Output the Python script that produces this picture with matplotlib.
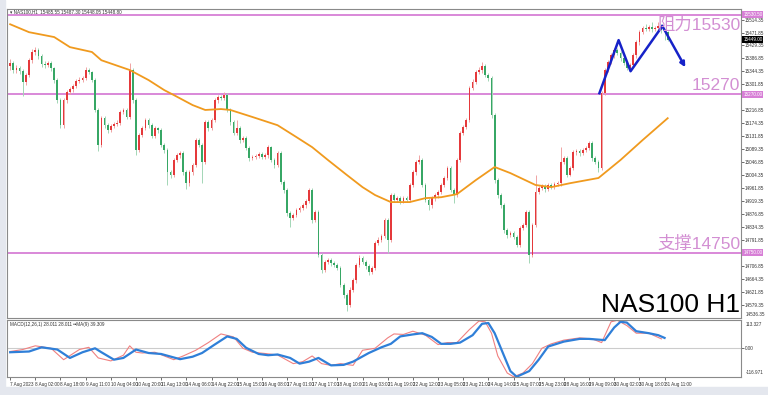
import numpy as np
import matplotlib
matplotlib.use("Agg")
import matplotlib.pyplot as plt
from matplotlib.patches import Rectangle
import matplotlib.transforms as mtrans

# --- H1 candles (2h steps), open = previous close ---
first_open = 15362
closes = [
    15372, 15349, 15355, 15345, 15309, 15332, 15381, 15408, 15414, 15395,
    15368, 15365, 15372, 15355, 15316, 15250, 15168, 15250, 15277, 15286,
    15296, 15313, 15316, 15322, 15349, 15342, 15316, 15218, 15103, 15191,
    15168, 15152, 15165, 15172, 15175, 15211, 15218, 15195, 15349, 15250,
    15087, 15136, 15159, 15185, 15168, 15132, 15159, 15152, 15103, 15087,
    15014, 15005, 15054, 15070, 15077, 15014, 14978, 15014, 15037, 15119,
    15103, 15047, 15178, 15159, 15185, 15250, 15260, 15257, 15267, 15218,
    15178, 15142, 15159, 15119, 15126, 15093, 15060, 15064, 15067, 15073,
    15064, 15070, 15096, 15054, 15037, 15077, 14982, 14955, 14880, 14864,
    14873, 14890, 14896, 14906, 14919, 14955, 14857, 14883, 14742, 14693,
    14719, 14726, 14716, 14710, 14700, 14644, 14611, 14579, 14628, 14660,
    14710, 14733, 14719, 14706, 14687, 14700, 14782, 14792, 14805, 14857,
    14792, 14939, 14923, 14929, 14919, 14929, 14923, 14972, 15014, 15047,
    15054, 14972, 14923, 14906, 14929, 14939, 14949, 14972, 14995, 15028,
    14955, 14939, 15054, 15142, 15162, 15185, 15290, 15309, 15342, 15349,
    15362, 15332, 15322, 15201, 14988, 14939, 14906, 14824, 14808, 14814,
    14801, 14775, 14831, 14841, 14883, 14742, 14841, 14949, 14962, 14969,
    14959, 14972, 14965, 14975, 14978, 15047, 15060, 15005, 15028, 15080,
    15083, 15077, 15087, 15093, 15109, 15060, 15047, 15028, 15273, 15349,
    15375, 15398, 15414, 15404, 15388, 15372, 15355, 15365, 15398, 15440,
    15473, 15486, 15483, 15490, 15483, 15486, 15493, 15480, 15473, 15449,
]
highs = [
    15385, 15380, 15366, 15362, 15352, 15340, 15390, 15418, 15425, 15420,
    15402, 15377, 15380, 15378, 15360, 15322, 15258, 15258, 15285, 15294,
    15303, 15320, 15325, 15330, 15358, 15355, 15346, 15322, 15224, 15198,
    15198, 15175, 15172, 15180, 15184, 15218, 15226, 15224, 15372, 15355,
    15258, 15142, 15166, 15192, 15192, 15174, 15166, 15162, 15158, 15110,
    15094, 15022, 15060, 15078, 15085, 15084, 15020, 15020, 15044, 15126,
    15126, 15110, 15185, 15184, 15192, 15256, 15268, 15266, 15277, 15272,
    15225, 15185, 15185, 15165, 15134, 15132, 15100, 15070, 15074, 15080,
    15080, 15077, 15103, 15100, 15060, 15084, 15084, 14990, 14962, 14887,
    14880, 14897, 14904, 14913, 14926, 14962, 14962, 14890, 14890, 14750,
    14726, 14734, 14733, 14722, 14716, 14706, 14650, 14618, 14636, 14668,
    14717, 14741, 14740, 14726, 14713, 14707, 14789, 14800, 14812, 14864,
    14864, 14946, 14946, 14936, 14936, 14936, 14936, 14979, 15021, 15054,
    15070, 15060, 14980, 14930, 14935, 14946, 14956, 14979, 15002, 15035,
    15035, 14962, 15060, 15148, 15170, 15192, 15296, 15318, 15350, 15360,
    15375, 15368, 15340, 15328, 15207, 14995, 14946, 14912, 14832, 14822,
    14822, 14808, 14838, 14848, 14890, 14890, 14848, 15005, 14970, 14976,
    14976, 14979, 14979, 14982, 14985, 15096, 15068, 15067, 15035, 15087,
    15090, 15090, 15094, 15100, 15116, 15115, 15066, 15054, 15280, 15356,
    15382, 15405, 15422, 15420, 15410, 15395, 15380, 15372, 15405, 15447,
    15480, 15493, 15500, 15497, 15505, 15494, 15506, 15500, 15484, 15478,
]
lows = [
    15350, 15340, 15340, 15336, 15265, 15300, 15325, 15372, 15398, 15386,
    15360, 15356, 15358, 15346, 15305, 15240, 15158, 15160, 15242, 15270,
    15278, 15289, 15306, 15310, 15316, 15335, 15310, 15210, 15084, 15096,
    15160, 15144, 15146, 15158, 15164, 15170, 15204, 15188, 15188, 15242,
    15070, 15080, 15130, 15152, 15160, 15125, 15126, 15144, 15096, 15078,
    14972, 14995, 14998, 15046, 15062, 15006, 14960, 14970, 15006, 15030,
    15096, 14980, 15040, 15150, 15152, 15178, 15242, 15250, 15250, 15210,
    15170, 15135, 15136, 15110, 15112, 15086, 15050, 15054, 15058, 15062,
    15056, 15058, 15062, 15046, 15028, 15030, 14975, 14946, 14872, 14834,
    14856, 14866, 14882, 14889, 14898, 14912, 14848, 14850, 14735, 14683,
    14686, 14712, 14708, 14702, 14692, 14636, 14603, 14560, 14572, 14620,
    14652, 14702, 14712, 14698, 14678, 14680, 14693, 14774, 14785, 14798,
    14749, 14785, 14915, 14916, 14911, 14912, 14915, 14916, 14965, 15006,
    15040, 14965, 14915, 14890, 14898, 14920, 14930, 14942, 14965, 14988,
    14948, 14913, 14932, 15046, 15135, 15155, 15178, 15282, 15302, 15335,
    15340, 15325, 15314, 15192, 14980, 14930, 14898, 14815, 14798, 14800,
    14794, 14768, 14768, 14824, 14834, 14716, 14735, 14834, 14942, 14955,
    14950, 14952, 14958, 14958, 14968, 14970, 15040, 14998, 15000, 15020,
    15072, 15068, 15070, 15080, 15086, 15052, 15040, 15015, 15020, 15266,
    15342, 15368, 15390, 15398, 15380, 15365, 15348, 15345, 15358, 15390,
    15432, 15466, 15476, 15476, 15475, 15476, 15480, 15470, 15446, 15445,
]

# orange moving average, sampled along the chart
ma_idx = [0, 6, 14, 19, 26, 29, 38, 44, 49, 52, 58, 62, 67, 70, 77, 85, 91, 96, 101,
          107, 112, 116, 121, 127, 132, 137, 142, 148, 154, 159, 167, 172, 178, 187,
          194, 201, 209]
ma_val = [15499, 15473, 15457, 15424, 15408, 15381, 15349, 15316, 15283, 15267, 15234,
          15218, 15221, 15218, 15195, 15168, 15129, 15096, 15054, 15005, 14965, 14939,
          14916, 14916, 14929, 14932, 14942, 14988, 15031, 15011, 14972, 14965, 14978,
          14995, 15054, 15119, 15191]

# MACD panel
macd_idx = [0, 4, 8, 13, 17, 22, 25, 28, 32, 36, 38, 40, 42, 46, 52, 55, 59, 63, 67, 71,
            74, 77, 81, 85, 90, 93, 96, 99, 102, 105, 109, 112, 116, 120, 122, 125, 128,
            132, 136, 139, 142, 146, 149, 151, 153, 155, 158, 160, 163, 166, 169, 172,
            176, 181, 185, 188, 191, 193, 196, 199, 203, 207]
macd_val = [-14, -6, 9, -1, -47, -6, 3, -40, -52, -29, 9, -17, -20, -17, -47, -32, -9, 22,
            57, 45, -1, -17, -22, -28, -63, -55, -32, -63, -70, -63, -70, -9, -1, 41, 57,
            55, 68, 52, 14, 22, 22, 75, 109, 106, 60, -32, -101, -116, -101, -63, -1, 17,
            32, 41, 37, 22, 106, 112, 91, 60, 60, 37]
signal_idx = [0, 6, 10, 15, 19, 23, 27, 29, 33, 36, 40, 44, 48, 54, 58, 61, 65, 69, 72,
              75, 79, 82, 85, 89, 92, 95, 98, 102, 106, 109, 114, 118, 121, 124, 128, 131,
              134, 137, 140, 143, 147, 150, 152, 154, 157, 159, 161, 165, 168, 171, 176,
              181, 184, 189, 192, 194, 196, 199, 203, 206, 208]
signal_val = [-17, -14, 3, -6, -40, -17, -1, -17, -47, -40, -6, -20, -24, -45, -35, -20,
              14, 47, 37, 1, -24, -29, -26, -40, -63, -55, -40, -70, -68, -55, -20, 3, 17,
              47, 55, 60, 45, 17, 17, 22, 52, 98, 101, 60, -32, -93, -116, -93, -47, 6, 26,
              37, 37, 32, 83, 106, 103, 68, 60, 52, 41]

levels = [15530, 15270, 14750]
level_texts = ["阻力15530", "15270", "支撑14750"]

# blue projection zigzag
zig_idx = [187.3, 193.4, 197.2, 207.3, 214.6]
zig_val = [15273, 15447, 15345, 15493, 15358]

date_labels = ["7 Aug 2023", "8 Aug 02:00", "8 Aug 18:00", "9 Aug 11:00", "10 Aug 04:00",
               "10 Aug 20:00", "11 Aug 13:00", "14 Aug 06:00", "14 Aug 22:00",
               "15 Aug 15:00", "16 Aug 08:00", "17 Aug 01:00", "17 Aug 17:00",
               "18 Aug 10:00", "21 Aug 03:00", "21 Aug 19:00", "22 Aug 12:00",
               "23 Aug 05:00", "23 Aug 21:00", "24 Aug 14:00", "25 Aug 07:00",
               "25 Aug 23:00", "28 Aug 16:00", "29 Aug 09:00", "30 Aug 02:00",
               "30 Aug 18:00", "31 Aug 11:00"]

plt.rcParams['font.family'] = ['Liberation Sans', 'Noto Sans CJK SC', 'DejaVu Sans']

W, H = 768, 395
fig = plt.figure(figsize=(W / 100, H / 100), dpi=100)
fig.patches.append(Rectangle((0, 0), 5 / W, 1, transform=fig.transFigure, color="#e4e7ee", zorder=-1))
fig.patches.append(Rectangle((0, 0), 1, 8 / H, transform=fig.transFigure, color="#e4e7ee", zorder=-1))

ax = fig.add_axes([7 / W, 1 - 318 / H, 734 / W, 309 / H])
ax2 = fig.add_axes([7 / W, 1 - 377 / H, 734 / W, 57 / H], sharex=ax)

o = np.array([first_open] + closes[:-1], dtype=float)
c = np.array(closes, dtype=float)
hi = np.array(highs, dtype=float)
lo = np.array(lows, dtype=float)
x = np.arange(len(c))
up = c >= o

body_col = np.where(up, "#e5393b", "#37a765")
wick_col = np.where(up, "#f0a3a3", "#a3d6b6")
ax.vlines(x, lo, hi, colors=wick_col, lw=0.7, zorder=2)
ax.bar(x, np.maximum(np.abs(c - o), 2), bottom=np.minimum(o, c), width=0.55,
       color=body_col, linewidth=0, zorder=3)

ax.plot(ma_idx, ma_val, color="#f09a1e", lw=1.3, zorder=4)

for lv in levels:
    ax.axhline(lv, color="#d77fd6", lw=1.3, zorder=1)

tr = mtrans.blended_transform_factory(ax.transAxes, ax.transData)
lab_col = "#d38fd3"
ax.text(0.999, 15525, level_texts[0], transform=tr, ha="right", va="top",
        fontsize=12.5, color=lab_col, zorder=6)
ax.text(0.999, 15274, level_texts[1], transform=tr, ha="right", va="bottom",
        fontsize=12.5, color=lab_col, zorder=6)
ax.text(0.999, 14754, level_texts[2], transform=tr, ha="right", va="bottom",
        fontsize=12.5, color=lab_col, zorder=6)

ax.text(0.999, 0.003, "NAS100 H1", transform=ax.transAxes, ha="right", va="bottom",
        fontsize=19, color="black", zorder=6)

ax.plot(zig_idx[:-1], zig_val[:-1], color="#1622c8", lw=1.8, zorder=5)
ax.annotate("", xy=(zig_idx[-1], zig_val[-1]), xytext=(zig_idx[-2], zig_val[-2]),
            arrowprops=dict(arrowstyle="-|>", color="#1622c8", lw=1.8,
                            mutation_scale=7, shrinkA=0, shrinkB=0), zorder=5)

ax.text(0.004, 0.998, "▾ NAS100,H1  15485.55 15487.30 15448.05 15448.80",
        transform=ax.transAxes, ha="left", va="top", fontsize=3.3, color="#333333")

ax.set_xlim(-1, 232.3)
ax.set_ylim(14536, 15549)
ax.yaxis.tick_right()
# price scale; skip ticks that sit under the coloured price tags
tags = levels + [closes[-1]]
yt = [v for v in np.arange(14579.35, 15540, 42.5) if min(abs(v - t) for t in tags) > 12]
ax.set_yticks(yt)
ax.set_yticklabels([f"{v:.2f}" for v in yt], fontsize=3.3)
ax.tick_params(axis="y", length=2, width=0.5, pad=1, colors="#333333")
ax.tick_params(axis="x", length=0, labelbottom=False)
ax.text(1.006, 0.002, "14536.35", transform=ax.transAxes, ha="left", va="bottom",
        fontsize=3.3, color="#333333")

# price tags on the axis
for lv, txt in [(15530, "15530.50"), (15270, "15270.00"), (14750, "14750.00")]:
    ax.text(1.003, lv, txt, transform=tr, ha="left", va="center", fontsize=3.3,
            color="white", bbox=dict(boxstyle="square,pad=0.2", fc="#d77fd6", ec="none"))
ax.text(1.003, closes[-1], f"{closes[-1]:.2f}", transform=tr, ha="left", va="center",
        fontsize=3.3, color="white", bbox=dict(boxstyle="square,pad=0.2", fc="black", ec="none"))

ax2.axhline(0, color="#cccccc", lw=0.8)
ax2.plot(macd_idx, macd_val, color="#f08080", lw=0.8)
ax2.plot(signal_idx, signal_val, color="#2f7fd8", lw=1.6)
ax2.set_ylim(-117, 113.3)
ax2.yaxis.tick_right()
ax2.set_yticks([0])
ax2.set_yticklabels(["0.00"], fontsize=3.3)
ax2.tick_params(axis="y", length=2, width=0.5, pad=1, colors="#333333")
ax2.text(1.006, 0.97, "113.327", transform=ax2.transAxes, ha="left", va="top",
         fontsize=3.3, color="#333333")
ax2.text(1.006, 0.03, "-116.971", transform=ax2.transAxes, ha="left", va="bottom",
         fontsize=3.3, color="#333333")
ax2.text(0.004, 0.97, "MACD(12,26,1) 28.011 28.011 \u2022\u2022MA(9) 39.309",
         transform=ax2.transAxes, ha="left", va="top", fontsize=3.3, color="#333333")

ax2.set_xticks(np.arange(0, 8 * len(date_labels), 8))
ax2.set_xticklabels(date_labels, fontsize=3.3, ha="left")
ax2.tick_params(axis="x", length=2, width=0.5, pad=1.5, colors="#333333")

for a in (ax, ax2):
    for s in a.spines.values():
        s.set_color("#8a8a8a")
        s.set_linewidth(0.8)

fig.savefig("out.png", dpi=100, facecolor="white")
